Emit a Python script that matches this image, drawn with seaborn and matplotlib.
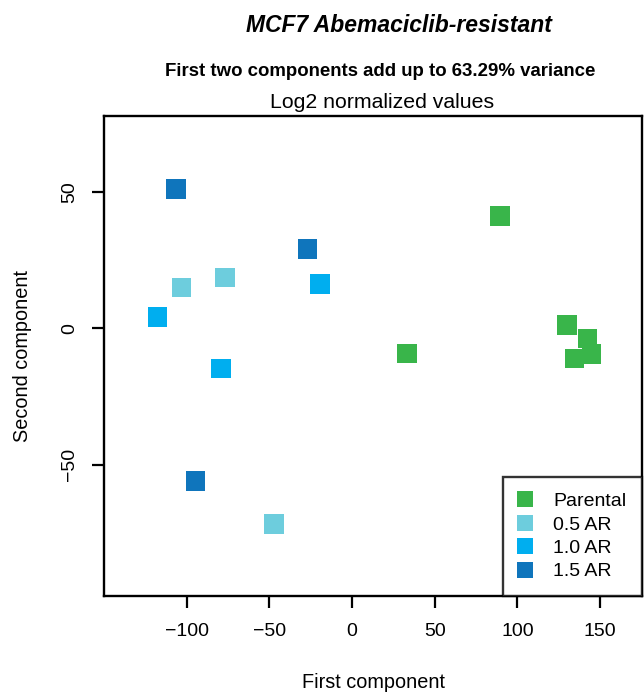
import matplotlib
matplotlib.use("Agg")
import matplotlib.pyplot as plt
import seaborn as sns
import pandas as pd

groups = ["Parental"] * 6 + ["0.5 AR"] * 3 + ["1.0 AR"] * 3 + ["1.5 AR"] * 3
pc1 = [89.5, 33.1, 130.0, 142.3, 144.7, 134.4,
       -76.8, -103.2, -47.2,
       -19.3, -117.7, -79.4,
       -106.4, -27.0, -94.7]
pc2 = [41.3, -9.2, 1.3, -3.8, -9.5, -11.1,
       18.7, 15.0, -71.8,
       16.2, 4.1, -14.7,
       51.1, 29.2, -56.1]
hue_order = ["Parental", "0.5 AR", "1.0 AR", "1.5 AR"]
colors = ["#39B54A", "#6DCDDD", "#00AEEF", "#0F75BC"]
x_ticks = [-100, -50, 0, 50, 100, 150]
y_ticks = [-50, 0, 50]

df = pd.DataFrame({"pc1": pc1, "pc2": pc2, "group": groups})

sns.set_style("white")
plt.rcParams["font.family"] = ["Liberation Sans", "DejaVu Sans"]
plt.rcParams["text.color"] = "black"
plt.rcParams["axes.labelcolor"] = "black"
plt.rcParams["xtick.color"] = "black"
plt.rcParams["ytick.color"] = "black"

fig = plt.figure(figsize=(6.44, 6.93), dpi=100)
ax = fig.add_axes([104 / 644, 1 - 596 / 693, (642 - 104) / 644, (596 - 115.7) / 693])

sns.scatterplot(data=df, x="pc1", y="pc2", hue="group", hue_order=hue_order,
                palette=colors, marker="s", s=200, linewidth=0, ax=ax, legend=True)

ax.set_xlim(-150, 175.3)
ax.set_ylim(-98.2, 78.0)
ax.set_xticks(x_ticks)
ax.set_yticks(y_ticks)
ax.set_xticklabels([str(t).replace("-", "\u2212") for t in x_ticks], fontsize=14)
ax.set_yticklabels([str(t).replace("-", "\u2212") for t in y_ticks], fontsize=14,
                   rotation=90, va="center")
ax.tick_params(axis="both", direction="out", length=8.8, width=1.6, color="black",
               bottom=True, left=True, pad=10, labelcolor="black")
ax.tick_params(axis="x", pad=11)
for sp in ax.spines.values():
    sp.set_color("black")
    sp.set_linewidth(1.7)

ax.set_xlabel("")
ax.set_ylabel("")
fig.text(374 / 644, 1 - 682 / 693, "First component", ha="center", va="center", fontsize=14.3)
fig.text(23 / 644, 1 - 356 / 693, "Second component", ha="center", va="center",
         rotation=90, fontsize=14.3)

fig.text(399 / 644, 1 - 25 / 693, "MCF7 Abemaciclib-resistant", ha="center", va="center",
         fontsize=16.5, fontweight="bold", fontstyle="italic")
fig.text(380 / 644, 1 - 72 / 693, "First two components add up to 63.29% variance",
         ha="center", va="center", fontsize=13.4, fontweight="bold")
fig.text(382 / 644, 1 - 103 / 693, "Log2 normalized values", ha="center", va="center",
         fontsize=15.3)

handles, labels = ax.get_legend_handles_labels()
leg = ax.legend(handles, labels, loc="lower right", borderaxespad=0, frameon=True,
                fancybox=False, fontsize=14, handletextpad=1.1, borderpad=0.8,
                labelspacing=0.3, markerscale=0.85, handlelength=0.67)
leg.get_frame().set_edgecolor("black")
leg.get_frame().set_linewidth(1.7)

fig.savefig("out.png", dpi=100)
